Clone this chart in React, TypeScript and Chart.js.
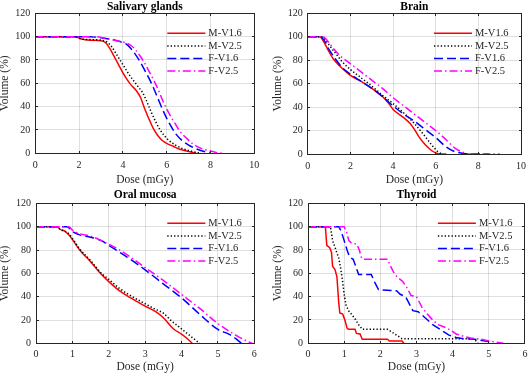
import React, { useEffect, useRef } from "react";
import { Chart, registerables } from "chart.js";

Chart.register(...registerables);

type Pt = [number, number];

const seriesLabels = ["M-V1.6", "M-V2.5", "F-V1.6", "F-V2.5"];
const seriesColors = ["#ff0000", "#000000", "#0000ff", "#ff00ff"];
const seriesDashes: number[][] = [[], [1.3, 2.1], [9, 4], [8, 3, 1.5, 3]];

const panelTitles = ["Salivary glands", "Brain", "Oral mucosa", "Thyroid"];
const xAxisTitle = "Dose (mGy)";
const yAxisTitle = "Volume (%)";
const xMaxes = [10, 10, 6, 6];
const xSteps = [2, 2, 1, 1];
const yMax = 120;
const yStep = 20;

// Salivary glands
const salivaryMV16: Pt[] = [[0,100],[1.8,100],[2.1,98],[2.5,97],[3.0,96.5],[3.2,95],[3.4,90],[3.6,83],[3.8,76],[4.0,69],[4.2,63],[4.4,58],[4.6,54],[4.8,48],[5.0,38],[5.2,29],[5.4,21],[5.6,15],[5.8,11],[6.0,8.5],[6.3,6],[6.6,3.5],[7.0,1.5],[7.35,0]];
const salivaryMV25: Pt[] = [[0,100],[1.8,100],[2.1,98],[2.5,97.5],[3.0,97],[3.3,95],[3.5,91],[3.7,85],[3.9,79],[4.1,73],[4.3,67],[4.5,62],[4.7,57],[4.9,52],[5.1,44],[5.3,35],[5.5,27],[5.7,20],[5.9,15],[6.1,11],[6.4,7],[6.8,3.5],[7.2,1.5],[7.55,0]];
const salivaryFV16: Pt[] = [[0,100],[2.5,100],[3.0,99],[3.5,97.5],[3.9,95.5],[4.2,93],[4.4,89],[4.6,84],[4.8,78],[5.0,71],[5.2,64],[5.4,56],[5.6,47],[5.8,38],[6.0,30],[6.2,23],[6.4,17],[6.7,11],[7.0,7],[7.4,3.5],[7.8,1],[8.0,0]];
const salivaryFV25: Pt[] = [[0,100],[2.7,100],[3.2,98.5],[3.7,96.5],[4.1,95],[4.4,92],[4.6,88],[4.8,83],[5.0,77],[5.2,70],[5.4,63],[5.6,55],[5.8,46],[6.0,38],[6.2,31],[6.4,25],[6.6,19],[6.9,13],[7.2,8],[7.6,4],[8.0,2],[8.3,0.5],[8.6,0]];

// Brain
const brainMV16: Pt[] = [[0,100],[0.55,100],[0.8,94],[1.0,87],[1.2,81],[1.5,75],[2.0,67],[2.5,62],[3.0,56],[3.5,49],[3.8,43],[4.0,38],[4.5,31],[4.8,26],[5.0,21],[5.2,15],[5.5,8],[5.8,3],[6.0,1],[6.2,0],[6.5,0]];
const brainMV25: Pt[] = [[0,100],[0.6,100],[0.8,98],[1.0,93],[1.3,86],[1.6,79],[2.0,72],[2.5,65],[3.0,58],[3.5,50],[4.0,43],[4.5,35],[5.0,26],[5.5,15],[5.8,8],[6.1,2],[6.3,0]];
const brainFV16: Pt[] = [[0,100],[0.6,100],[0.8,96],[1.0,89],[1.3,81],[1.6,74],[2.0,68],[2.5,62],[3.0,56],[3.5,49],[4.0,41],[4.5,34],[5.0,28],[5.5,21],[6.0,14],[6.5,6],[6.9,2],[7.3,0.5],[7.6,0],[8.5,0]];
const brainFV25: Pt[] = [[0,100],[0.7,100],[0.9,97],[1.2,90],[1.5,84],[2.0,77],[2.5,70],[3.0,63],[3.5,56],[4.0,48],[4.5,41],[5.0,34],[5.5,27],[6.0,20],[6.5,12],[6.9,5],[7.2,2],[7.6,0],[9.0,0]];

// Oral mucosa
const oralMV16: Pt[] = [[0,100],[0.6,100],[0.65,98],[0.8,96],[0.9,93],[1.0,89],[1.2,80],[1.5,70],[1.8,59],[2.0,53],[2.3,45],[2.6,39],[3.0,32],[3.3,27],[3.5,22],[3.7,15],[3.8,12],[4.0,8],[4.2,3],[4.3,0]];
const oralMV25: Pt[] = [[0,100],[0.6,100],[0.65,98],[0.8,96],[0.9,94],[1.0,90],[1.2,81],[1.5,71],[1.8,60],[2.0,55],[2.3,47],[2.6,41],[3.0,34],[3.3,29],[3.5,26],[3.7,20],[3.9,15],[4.1,10],[4.3,5],[4.5,0]];
const oralFV16: Pt[] = [[0,100],[0.85,100],[1.0,96],[1.2,93],[1.5,91],[1.8,88],[2.0,84],[2.3,78],[2.5,74],[3.0,63],[3.5,51],[4.0,39],[4.5,25],[5.0,12],[5.3,8],[5.5,4],[5.65,0]];
const oralFV25: Pt[] = [[0,100],[0.9,100],[1.0,97],[1.2,94],[1.5,92],[1.8,88],[2.0,85],[2.3,80],[2.5,76],[3.0,65],[3.5,54],[4.0,42],[4.5,30],[5.0,17],[5.5,7],[5.8,2],[5.95,0]];

// Thyroid
const thyroidMV16: Pt[] = [[0,100],[0.48,100],[0.52,84],[0.6,82],[0.65,78],[0.68,66],[0.75,63],[0.8,57],[0.85,35],[0.88,26],[0.96,25],[1.02,20],[1.08,13],[1.12,12],[1.3,12],[1.34,8.5],[1.44,8],[1.5,3.5],[2.2,3.5],[2.25,2],[2.6,2],[2.65,0]];
const thyroidMV25: Pt[] = [[0,100],[0.62,100],[0.68,88],[0.75,82],[0.85,73],[0.9,65],[0.95,55],[1.0,42],[1.05,33],[1.12,28],[1.2,25],[1.3,21],[1.4,16],[1.5,12],[2.2,12],[2.3,10],[2.45,7],[2.6,4],[4.55,4],[4.65,2],[4.7,0]];
const thyroidFV16: Pt[] = [[0,100],[0.85,100],[0.92,96],[1.0,88],[1.08,80],[1.15,74],[1.25,72],[1.32,66],[1.4,59],[1.75,59],[1.85,52],[1.95,46],[2.45,45],[2.55,42],[2.7,40],[2.8,34],[2.9,28],[3.05,27],[3.2,23],[3.45,16],[3.7,11],[3.9,7],[4.1,5],[4.3,4],[4.6,3.5],[4.9,2],[5.05,1],[5.1,0]];
const thyroidFV25: Pt[] = [[0,100],[1.0,100],[1.07,95],[1.13,88],[1.2,86],[1.35,85],[1.42,80],[1.47,74],[1.52,72],[2.2,72],[2.3,65],[2.4,59],[2.5,56],[2.62,53],[2.75,47],[2.85,41],[3.0,40],[3.15,31],[3.3,25],[3.45,20],[3.6,16],[3.85,13],[4.1,8],[4.3,6],[4.5,4.5],[4.8,3.5],[5.0,2],[5.2,1],[5.4,0]];

const panelSeries: Pt[][][] = [
  [salivaryMV16, salivaryMV25, salivaryFV16, salivaryFV25],
  [brainMV16, brainMV25, brainFV16, brainFV25],
  [oralMV16, oralMV25, oralFV16, oralFV25],
  [thyroidMV16, thyroidMV25, thyroidFV16, thyroidFV25],
];
const panelSmooth = [true, true, true, false];

// layout geometry (pixels)
type Geo = {
  left: number; top: number; w: number; h: number;
  padL: number; padR: number; yW: number; xH: number;
  titleTop: number; titleBottom: number; xTickPad: number; xTitlePad: number; yTitlePad: number;
};
const geos: Geo[] = [
  { left: 0, top: 0, w: 266, h: 187, padL: 0, padR: 11.7, yW: 35.3, xH: 33.7, titleTop: 0.9, titleBottom: 0.9, xTickPad: 6, xTitlePad: 0.6, yTitlePad: -2.4 },
  { left: 266, top: 0, w: 266, h: 187, padL: 7.5, padR: 6, yW: 34.3, xH: 33, titleTop: 0.9, titleBottom: 0.9, xTickPad: 6, xTitlePad: 0.6, yTitlePad: -2.4 },
  { left: 0, top: 187, w: 266, h: 188, padL: 0, padR: 11.7, yW: 36, xH: 31.5, titleTop: 2.5, titleBottom: 2.3, xTickPad: 4.6, xTitlePad: 0.8, yTitlePad: -2.4 },
  { left: 266, top: 187, w: 266, h: 188, padL: 7.5, padR: 5.5, yW: 34.5, xH: 31.7, titleTop: 2.5, titleBottom: 2.3, xTickPad: 4.6, xTitlePad: 0.8, yTitlePad: -2.4 },
];

const FONT = "'Liberation Serif', 'Times New Roman', serif";
const TEXT = "#262626";
const GRID = "rgba(38,38,38,0.15)";

const frameLegendPlugin = {
  id: "frameLegend",
  afterDatasetsDraw(chart: any) {
    const { ctx, chartArea: a, scales } = chart;
    const al = (p: number) => Math.round(p - 0.5) + 0.5;
    const L = al(a.left), R = al(a.right), T = al(a.top), B = al(a.bottom);
    ctx.save();
    ctx.setLineDash([]);
    ctx.strokeStyle = TEXT;
    ctx.lineWidth = 1;
    ctx.strokeRect(L, T, R - L, B - T);
    const tl = 2.5;
    ctx.beginPath();
    scales.x.ticks.forEach((t: any) => {
      const px = al(scales.x.getPixelForValue(t.value));
      ctx.moveTo(px, B); ctx.lineTo(px, B - tl);
      ctx.moveTo(px, T); ctx.lineTo(px, T + tl);
    });
    scales.y.ticks.forEach((t: any) => {
      const py = al(scales.y.getPixelForValue(t.value));
      ctx.moveTo(L, py); ctx.lineTo(L + tl, py);
      ctx.moveTo(R, py); ctx.lineTo(R - tl, py);
    });
    ctx.stroke();
    ctx.restore();
  },
  afterDraw(chart: any) {
    const { ctx, chartArea: a } = chart;
    ctx.save();
    ctx.font = `10.5px ${FONT}`;
    ctx.textBaseline = "middle";
    ctx.textAlign = "left";
    chart.data.datasets.forEach((ds: any, i: number) => {
      const y = a.top + 20 + i * 12.6;
      ctx.strokeStyle = ds.borderColor;
      ctx.lineWidth = ds.borderWidth;
      ctx.setLineDash(ds.borderDash || []);
      ctx.beginPath();
      ctx.moveTo(a.right - 87, y);
      ctx.lineTo(a.right - 49, y);
      ctx.stroke();
      ctx.setLineDash([]);
      ctx.fillStyle = TEXT;
      ctx.fillText(ds.label, a.right - 46, y);
    });
    ctx.restore();
  },
};

function Panel({ index }: { index: number }) {
  const ref = useRef<HTMLCanvasElement | null>(null);
  useEffect(() => {
    if (!ref.current) return;
    const g = geos[index];
    const datasets = panelSeries[index].map((pts, i) => ({
      label: seriesLabels[i],
      data: pts.map(([x, y]) => ({ x, y })),
      borderColor: seriesColors[i],
      backgroundColor: seriesColors[i],
      borderWidth: 1.5,
      borderDash: seriesDashes[i],
      pointRadius: 0,
      fill: false,
      order: 3 - i,
      tension: 0,
      cubicInterpolationMode: panelSmooth[index] ? "monotone" : "default",
    }));
    const chart = new Chart(ref.current, {
      type: "line",
      data: { datasets } as any,
      options: {
        animation: false,
        responsive: false,
        devicePixelRatio: 1,
        events: [],
        layout: { padding: { left: g.padL, right: g.padR, top: 0, bottom: 0 } },
        plugins: {
          legend: { display: false },
          tooltip: { enabled: false },
          title: {
            display: true,
            text: panelTitles[index],
            fullSize: false,
            color: "#000000",
            font: { family: FONT, size: 11.5, weight: "bold", lineHeight: 1 },
            padding: { top: g.titleTop, bottom: g.titleBottom },
          },
        },
        scales: {
          x: {
            type: "linear",
            min: 0,
            max: xMaxes[index],
            ticks: {
              stepSize: xSteps[index],
              autoSkip: false,
              maxRotation: 0,
              padding: g.xTickPad,
              color: TEXT,
              font: { family: FONT, size: 10 },
            },
            grid: { color: GRID, lineWidth: 1, drawTicks: false },
            border: { display: false },
            title: {
              display: true,
              text: xAxisTitle,
              color: TEXT,
              font: { family: FONT, size: 11.5 },
              padding: { top: 0, bottom: g.xTitlePad },
            },
            afterFit: (s: any) => { s.height = g.xH; },
          },
          y: {
            type: "linear",
            min: 0,
            max: yMax,
            ticks: {
              stepSize: yStep,
              autoSkip: false,
              padding: 5,
              color: TEXT,
              font: { family: FONT, size: 10 },
            },
            grid: { color: GRID, lineWidth: 1, drawTicks: false },
            border: { display: false },
            title: {
              display: true,
              text: yAxisTitle,
              color: TEXT,
              font: { family: FONT, size: 11.5 },
              padding: { top: g.yTitlePad, bottom: 0 },
            },
            afterFit: (s: any) => { s.width = g.yW; },
          },
        },
      } as any,
      plugins: [frameLegendPlugin],
    });
    return () => chart.destroy();
  }, [index]);
  const g = geos[index];
  return (
    <canvas
      ref={ref}
      width={g.w}
      height={g.h}
      style={{ position: "absolute", left: g.left, top: g.top, width: g.w, height: g.h, display: "block" }}
    />
  );
}

export default function App() {
  return (
    <div style={{ position: "absolute", left: 0, top: 0, width: 532, height: 375, background: "#ffffff", overflow: "hidden" }}>
      {[0, 1, 2, 3].map((i) => (
        <Panel key={i} index={i} />
      ))}
    </div>
  );
}
